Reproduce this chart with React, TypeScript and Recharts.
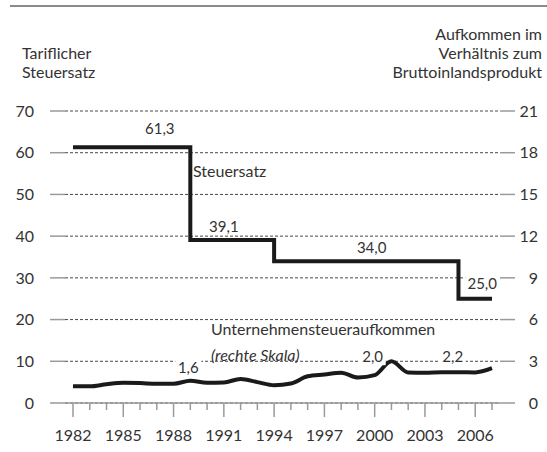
import React from 'react';
import { LineChart, Line, XAxis, YAxis, CartesianGrid, LabelList } from 'recharts';

const years = [1982, 1983, 1984, 1985, 1986, 1987, 1988, 1989, 1990, 1991, 1992, 1993, 1994, 1995, 1996, 1997, 1998, 1999, 2000, 2001, 2002, 2003, 2004, 2005, 2006, 2007];
const taxRate = [61.3, 61.3, 61.3, 61.3, 61.3, 61.3, 61.3, 39.1, 39.1, 39.1, 39.1, 39.1, 34.0, 34.0, 34.0, 34.0, 34.0, 34.0, 34.0, 34.0, 34.0, 34.0, 34.0, 25.0, 25.0, 25.0];
const taxRevenue = [1.2, 1.2, 1.35, 1.45, 1.43, 1.38, 1.38, 1.6, 1.45, 1.48, 1.72, 1.5, 1.28, 1.4, 1.92, 2.05, 2.18, 1.83, 2.0, 3.0, 2.2, 2.17, 2.22, 2.22, 2.2, 2.5];
const labeledYears = [1982, 1985, 1988, 1991, 1994, 1997, 2000, 2003, 2006];
const leftTicks = [0, 10, 20, 30, 40, 50, 60, 70];
const rightTicks = [0, 3, 6, 9, 12, 15, 18, 21];
const rateLabelYears = [1987, 1991, 2000, 2006];
const revenueLabelYears = [1989, 2000, 2004];

const data = years.map((year, i) => ({ year, rate: taxRate[i], revenue: taxRevenue[i] }));

const FONT = 'Lato, sans-serif';
const INK = '#1a1a1a';
const GRAY = '#9a9a9a';

// label placement relative to the data point (centre of the text)
const rateOffsets: Record<number, [number, number]> = { 1987: [3, -19], 1991: [0, -13], 2000: [-3, -13], 2006: [7, -15] };
const revenueOffsets: Record<number, [number, number]> = { 1989: [-2, -13], 2000: [-2, -18], 2004: [11, -15] };

const fmt = (v: number) => v.toFixed(1).replace('.', ',');

const makeLabel = (wanted: number[], offsets: Record<number, [number, number]>) => (props: any) => {
  const { x, y, index, value } = props;
  const year = years[index];
  if (!wanted.includes(year)) return null;
  const [dx, dy] = offsets[year];
  const text = fmt(value);
  const w = text.length * 8 + 2;
  return (
    <g>
      <rect x={x + dx - w / 2} y={y + dy - 8} width={w} height={16} fill="#fff" />
      <text x={x + dx} y={y + dy} dy="0.35em" textAnchor="middle" fontFamily={FONT} fontSize={15} fill="#333">
        {text}
      </text>
    </g>
  );
};

const XTick = (props: any) => {
  const { x, y, payload } = props;
  const major = labeledYears.includes(payload.value);
  return (
    <g>
      <line x1={x} x2={x} y1={y} y2={y + (major ? 14 : 7)} stroke={GRAY} strokeWidth={1.5} />
      {major && (
        <text x={x} y={y + 38} textAnchor="middle" fontFamily={FONT} fontSize={16} fill="#333">
          {payload.value}
        </text>
      )}
    </g>
  );
};

const RightTick = (props: any) => {
  const { x, y, payload } = props;
  return (
    <text x={x + 15} y={y} dy="0.355em" textAnchor="end" fontFamily={FONT} fontSize={16} fill="#333">
      {payload.value}
    </text>
  );
};

const textStyle: React.CSSProperties = { position: 'absolute', fontFamily: FONT, fontSize: 16, color: '#333', whiteSpace: 'nowrap' };

export default function App() {
  return (
    <div style={{ position: 'absolute', left: 0, top: 0, width: 547, height: 452, background: '#fff', overflow: 'hidden' }}>
      <div style={{ position: 'absolute', left: 10, right: 0, top: 5, height: 1.5, background: '#8a8a8a' }} />
      <div style={{ ...textStyle, left: 22, top: 43, lineHeight: '19px' }}>
        Tariflicher
        <br />
        Steuersatz
      </div>
      <div style={{ ...textStyle, right: 5, top: 24, lineHeight: '19px', textAlign: 'right' }}>
        Aufkommen im
        <br />
        Verhältnis zum
        <br />
        Bruttoinlandsprodukt
      </div>
      <LineChart width={547} height={452} data={data} margin={{ top: 111, right: 0, bottom: 0, left: 0 }}>
        <CartesianGrid yAxisId="left" vertical={false} stroke="#333" strokeDasharray="3 2" strokeWidth={0.9} />
        <XAxis
          dataKey="year"
          type="number"
          domain={[1982, 2007]}
          ticks={years}
          interval={0}
          padding={{ left: 8, right: 8 }}
          height={49}
          tickSize={0}
          tickMargin={0}
          tickLine={false}
          axisLine={{ stroke: GRAY, strokeWidth: 1.5 }}
          tick={<XTick />}
        />
        <YAxis
          yAxisId="left"
          domain={[0, 70]}
          ticks={leftTicks}
          width={65}
          tickSize={15}
          tickMargin={16}
          axisLine={false}
          tickLine={{ stroke: GRAY, strokeWidth: 1.5 }}
          tick={{ fontFamily: FONT, fontSize: 16, fill: '#333' }}
        />
        <YAxis
          yAxisId="right"
          orientation="right"
          domain={[0, 21]}
          ticks={rightTicks}
          width={47}
          tickSize={15}
          tickMargin={8}
          axisLine={false}
          tickLine={{ stroke: GRAY, strokeWidth: 1.5 }}
          tick={<RightTick />}
        />
        <Line yAxisId="left" type="stepAfter" dataKey="rate" stroke={INK} strokeWidth={4} dot={false} isAnimationActive={false}>
          <LabelList dataKey="rate" content={makeLabel(rateLabelYears, rateOffsets)} />
        </Line>
        <Line yAxisId="right" type="monotone" dataKey="revenue" stroke={INK} strokeWidth={4} dot={false} isAnimationActive={false}>
          <LabelList dataKey="revenue" content={makeLabel(revenueLabelYears, revenueOffsets)} />
        </Line>
      </LineChart>
      <div style={{ ...textStyle, left: 193, top: 161, lineHeight: '20px', background: '#fff' }}>Steuersatz</div>
      <div style={{ ...textStyle, left: 211, top: 319, lineHeight: '20px' }}>Unternehmensteueraufkommen</div>
      <div style={{ ...textStyle, left: 211, top: 345, lineHeight: '20px', fontStyle: 'italic' }}>(rechte Skala)</div>
    </div>
  );
}
